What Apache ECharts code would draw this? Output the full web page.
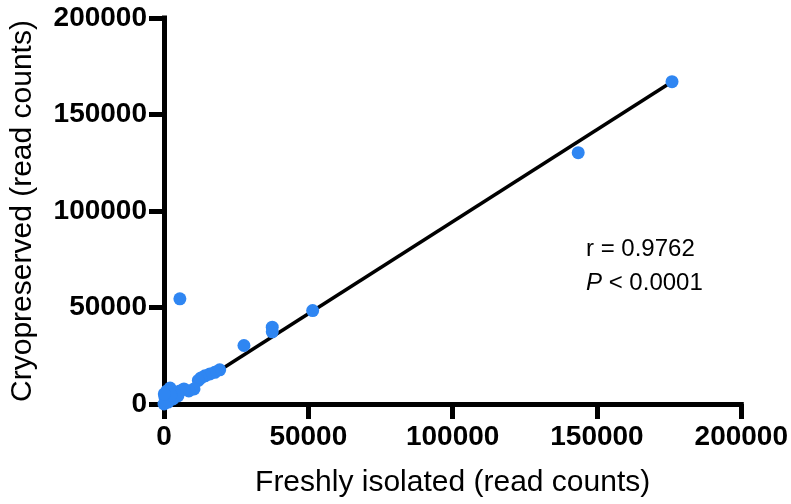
<!DOCTYPE html>
<html>
<head>
<meta charset="utf-8">
<script src="https://cdn.jsdelivr.net/npm/echarts@6/dist/echarts.min.js"></script>
<style>
  html, body { margin: 0; padding: 0; background: #fff; }
  #chart { width: 791px; height: 504px; }
</style>
</head>
<body>
<div id="chart"></div>
<script>
// Read counts per gene: freshly isolated (x) vs cryopreserved (y)
const freshCounts = [
  176000, 143500, 51500, 37500, 37500, 27700, 5500,
  19300, 17600, 15900, 14200, 12800, 11900, 10400, 8600, 6900, 5500,
  3800, 2100, 1000, 300, 1400, 3100, 700, 0, 4800, 2400, 100
];
const cryoCounts = [
  167000, 130200, 48400, 39800, 37400, 30300, 54500,
  17700, 16400, 15600, 14600, 13500, 12200, 7800, 6800, 7800, 6800,
  5200, 8300, 6800, 3600, 1000, 2600, 1600, 0, 4200, 4700, 5200
];
// Endpoints of the linear fit
const fitX = [1000, 176000];
const fitY = [0, 167000];
const axisTicks = [0, 50000, 100000, 150000, 200000];
const statLines = ['r = 0.9762', '{i|P} < 0.0001'];

const points = freshCounts.map((x, i) => [x, cryoCounts[i]]);
const fitLine = fitX.map((x, i) => [x, fitY[i]]);

const chart = echarts.init(document.getElementById('chart'));
const axisCommon = {
  type: 'value',
  min: axisTicks[0],
  max: axisTicks[axisTicks.length - 1],
  interval: axisTicks[1] - axisTicks[0],
  splitLine: { show: false },
  axisLine: { show: true, onZero: false, lineStyle: { color: '#000', width: 5, cap: 'square' } },
  axisTick: { show: true, length: 15, lineStyle: { color: '#000', width: 5 } },
  axisLabel: {
    color: '#000', fontFamily: 'Liberation Sans', fontWeight: 'bold', fontSize: 28,
    formatter: (v) => String(v)
  },
  nameLocation: 'middle',
  nameTextStyle: { color: '#000', fontFamily: 'Liberation Sans', fontSize: 30 }
};

chart.setOption({
  animation: false,
  backgroundColor: '#fff',
  grid: { left: 162, top: 18, width: 580, height: 386, containLabel: false },
  xAxis: Object.assign({}, axisCommon, {
    name: 'Freshly isolated (read counts)',
    nameGap: 64,
    axisLabel: Object.assign({}, axisCommon.axisLabel, { margin: 19 })
  }),
  yAxis: Object.assign({}, axisCommon, {
    name: 'Cryopreserved (read counts)',
    nameGap: 126,
    axisLabel: Object.assign({}, axisCommon.axisLabel, { margin: 17 })
  }),
  series: [
    {
      type: 'line',
      data: fitLine,
      symbol: 'none',
      lineStyle: { color: '#000', width: 3.5 },
      z: 2
    },
    {
      type: 'scatter',
      data: points,
      symbolSize: 13,
      itemStyle: { color: '#2F86F2', opacity: 1 },
      z: 3
    }
  ],
  graphic: [
    {
      type: 'text',
      left: 586,
      top: 232,
      style: {
        text: statLines.join('\n'),
        rich: { i: { fontStyle: 'italic', fontSize: 24, fontFamily: 'Liberation Sans', fill: '#000' } },
        font: '24px "Liberation Sans"',
        fill: '#000',
        lineHeight: 34
      }
    }
  ]
});
</script>
</body>
</html>
